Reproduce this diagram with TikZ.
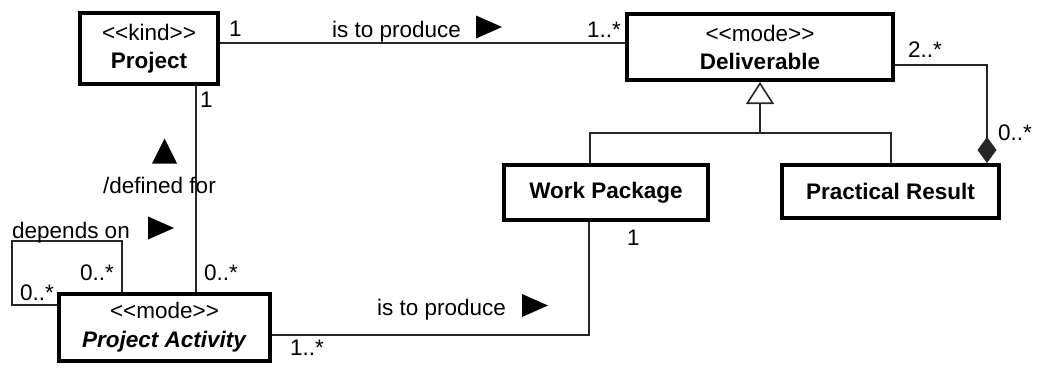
\documentclass[tikz,border=0pt]{standalone}
\usepackage{fontspec}
\setmainfont{Liberation Sans}
\usepackage{tikz}
\usetikzlibrary{arrows.meta,positioning}

% stereotype, kern keeps << from turning into a guillemet
\newcommand\stereo[1]{<\kern0pt<#1>\kern0pt>}

\begin{document}
\begin{tikzpicture}[x=1pt,y=-1pt,
    font=\fontsize{22.5}{28}\selectfont,
    cls/.style={draw, line width=3.6pt, inner sep=0pt, align=center, fill=white},
    assoc/.style={line width=1.6pt, draw=black!85},
    mult/.style={anchor=base west, inner sep=0pt}]
\useasboundingbox (0,0) rectangle (1044,367);

% classes
\node[cls, minimum width=138.4pt, minimum height=71.4pt] (proj) at (149,48.5)
  {\stereo{kind}\\\textbf{Project}};
\node[cls, minimum width=266.4pt, minimum height=66.4pt] (deliv) at (760,47)
  {\stereo{mode}\\\textbf{Deliverable}};
\node[cls, minimum width=211.4pt, minimum height=67.4pt] (act) at (164.5,327.5)
  {\stereo{mode}\\[1pt]\textbf{\itshape Project Activity}};
\node[cls, minimum width=204.4pt, minimum height=55.4pt] (wp) at (606,192.5)
  {\textbf{Work Package}};
\node[cls, minimum width=217.4pt, minimum height=53.4pt] (pr) at (890.5,191.5)
  {\textbf{Practical Result}};

% bend points
\coordinate (pd) at (0,43);
\coordinate (pa) at (196,0);
\coordinate (aw) at (589,335);
\coordinate (g1) at (590,133);
\coordinate (g2) at (891,133);
\coordinate (gj) at (760,133);
\coordinate (cm) at (987,65);
\coordinate (la) at (12,305);
\coordinate (lb) at (12,241);
\coordinate (lc) at (122,241);

% associations
\draw[assoc] (proj.east |- pd) -- (deliv.west |- pd);
\draw[assoc] (proj.south -| pa) -- (act.north -| pa);
\draw[assoc] (act.east |- aw) -| (wp.south -| aw);
\draw[assoc] (act.west |- la) -- (la) -- (lb) -- (lc) -- (act.north -| lc);
\draw[assoc, -{Diamond[length=26pt, width=19pt, line width=0pt]}]
  (deliv.east |- cm) -| (pr.north -| cm);

% generalization
\draw[assoc] (wp.north -| g1) -- (g1) -- (g2) -- (pr.north -| g2);
\draw[assoc, -{Triangle[open, length=22pt, width=28pt]}] (gj) -- (deliv.south);

% multiplicities
\foreach \n/\x/\y/\t in {m1/229/36/1, m2/587/37/1..*, m3/200/107/1,
    m4/204/280/0..*, m5/80/280/0..*, m6/20/300/0..*, m7/290/355/1..*,
    m8/627/245/1, m9/908/57/2..*, m10/998/140/0..*}
  \node[mult] (\n) at (\x,\y) {\t};

% role names
\node[mult] (r1) at (332,37) {is to produce};
\node[mult] (r2) at (103,193) {/defined for};
\node[mult] (r3) at (12,238) {depends on};
\node[mult] (r4) at (377,315) {is to produce};

% reading direction
\foreach \p in {(489,27),(161,228),(535,305.5)}
  \fill[shift={\p}] (-13,-11.5) -- (13,0) -- (-13,11.5) -- cycle;
\fill[shift={(164.5,151)}] (-12.5,12.5) -- (0,-12.5) -- (12.5,12.5) -- cycle;

\end{tikzpicture}
\end{document}
